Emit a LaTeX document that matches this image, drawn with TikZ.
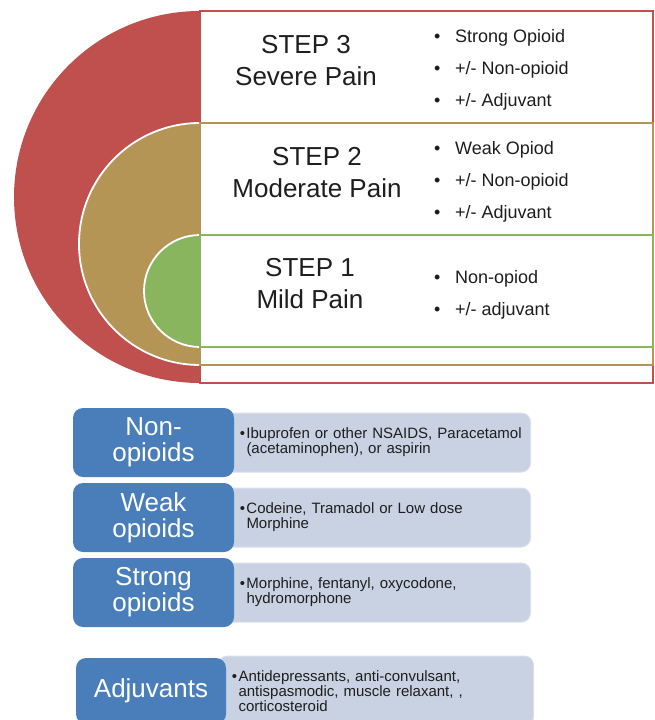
\documentclass[tikz,border=0pt]{standalone}
\usepackage{fontspec}
\setmainfont{Liberation Sans}
\definecolor{stepred}{RGB}{192,80,77}
\definecolor{steptan}{RGB}{180,149,86}
\definecolor{stepgreen}{RGB}{137,181,95}
\definecolor{classblue}{RGB}{74,126,187}
\definecolor{drugfill}{RGB}{200,210,226}
\definecolor{drugedge}{RGB}{218,224,236}
\definecolor{ink}{RGB}{30,30,30}
% bullet list in a drug box: left gap, then the text
\newcommand{\druglist}[2]{\hspace*{#1}\parbox[c]{285pt}{\raggedright\leavevmode\llap{\textbullet\hspace{1.5pt}}#2}}
\newcommand{\bul}{\makebox[21pt][l]{\textbullet}}
\tikzset{
  steplabel/.style={anchor=base, align=center, text=ink, inner sep=0pt,
    font=\fontsize{26}{32}\selectfont},
  steplist/.style={anchor=base west, align=left, text=ink, inner sep=0pt,
    font=\fontsize{18}{32}\selectfont},
  classbox/.style={fill=classblue, rounded corners=10pt, text=white, align=center,
    inner sep=0pt, minimum width=161pt, minimum height=69pt,
    font=\fontsize{26}{26}\selectfont},
  drugbox/.style={anchor=west, fill=drugfill, draw=drugedge, line width=1pt, rounded corners=9pt,
    text=ink, align=left, inner sep=0pt, text width=325pt,
    minimum height=59pt, font=\fontsize{15}{15}\selectfont}
}
\begin{document}
\begin{tikzpicture}[x=1pt,y=-1pt]
    \clip (0,0) rectangle (654,720);
    % three nested half discs with their boxes
    \fill[stepred] (200,11) arc[start angle=90, end angle=270, radius=186pt] -- cycle;
    \draw[stepred, fill=white, line width=1.6pt] (200,11) rectangle (653,383);
    \filldraw[fill=steptan, draw=white, line width=1.8pt] (200,123) arc[start angle=90, end angle=270, radius=121pt] -- cycle;
    \draw[steptan, fill=white, line width=1.6pt] (200,123) rectangle (653,365);
    \filldraw[fill=stepgreen, draw=white, line width=1.8pt] (200,235) arc[start angle=90, end angle=270, radius=56pt] -- cycle;
    \draw[stepgreen, fill=white, line width=1.6pt] (200,235) rectangle (653,347);
    % base = last line
    \node[steplabel] (s3) at (306,85) {STEP 3\\Severe Pain};
    \node[steplabel] (s2) at (317,197) {STEP 2\\Moderate Pain};
    \node[steplabel] (s1) at (310,308) {STEP 1\\Mild Pain};
    \node[steplist] (b3) at (434,106) {\bul Strong Opioid\\\bul +/- Non-opioid\\\bul +/- Adjuvant};
    \node[steplist] (b2) at (434,218) {\bul Weak Opiod\\\bul +/- Non-opioid\\\bul +/- Adjuvant};
    \node[steplist] (b1) at (434,315) {\bul Non-opiod\\\bul +/- adjuvant};
    % drug classes
    \node[drugbox] (nonopdrugs) at (205,442.5) {\druglist{41pt}{Ibuprofen or other NSAIDS, Paracetamol\\(acetaminophen), or aspirin}};
    \node[drugbox] (weakopdrugs) at (205,517.5) {\druglist{41pt}{Codeine, Tramadol or Low dose\\Morphine}};
    \node[drugbox] (strongopdrugs) at (205,592.5) {\druglist{41pt}{Morphine, fentanyl, oxycodone,\\hydromorphone}};
    \node[drugbox, text width=315pt, minimum height=70pt] (adjuvdrugs) at (218,691) {\druglist{20pt}{Antidepressants, anti-convulsant,\\antispasmodic, muscle relaxant, ,\\corticosteroid}};
    \node[classbox] (nonop) at (153.5,442.5) {Non-\\opioids};
    \node[classbox] (weakop) at (153.5,517.5) {Weak\\opioids};
    \node[classbox] (strongop) at (153.5,592.5) {Strong\\opioids};
    \node[classbox, minimum width=150pt, minimum height=66pt] (adjuv) at (151,691) {Adjuvants};
\end{tikzpicture}
\end{document}
